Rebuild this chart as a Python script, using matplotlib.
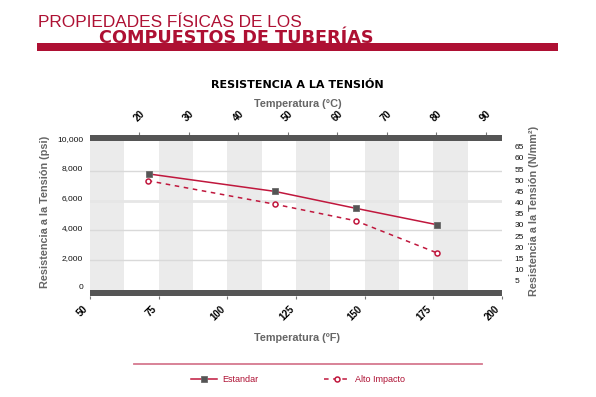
import matplotlib
matplotlib.use('Agg')
import matplotlib.pyplot as plt
from matplotlib.patches import Rectangle
from matplotlib.lines import Line2D
from matplotlib.transforms import ScaledTranslation

plt.rcParams['font.family'] = ['Liberation Sans', 'DejaVu Sans']

# ---------------- data ----------------
temp_f_estandar = [71.5, 117.2, 146.7, 176.4]
psi_estandar = [7800, 6630, 5490, 4380]
temp_f_alto = [71.0, 117.4, 146.7, 176.4]
psi_alto = [7350, 5760, 4650, 2480]

x_ticks_f = [50, 75, 100, 125, 150, 175, 200]
x_ticks_c = [20, 30, 40, 50, 60, 70, 80, 90]
y_ticks_psi = [0, 2000, 4000, 6000, 8000, 10000]
y_labels_psi = ['0', '2,000', '4,000', '6,000', '8,000', '10,000']
y_ticks_nmm = [5, 10, 15, 20, 25, 30, 35, 40, 45, 50, 55, 60, 65]
band_starts_f = [50, 75, 100, 125, 150, 175]
band_width_f = 12.5

series_names = ['Estandar', 'Alto Impacto']

# ---------------- style ----------------
RED = '#ae1033'
LINE_RED = '#c0173d'
DARK = '#555555'
GREY_TXT = '#666666'
BAND = '#ebebeb'
GRID = '#d9d9d9'

W, H = 596, 397
fig = plt.figure(figsize=(W / 100, H / 100), dpi=100)


def fx(px):
    return px / W


def fy(py):
    return 1 - py / H


# header
fig.text(fx(38), fy(27.3), 'PROPIEDADES FÍSICAS DE LOS', color=RED,
         fontsize=12.4, ha='left', va='baseline', family=['Liberation Sans'])
fig.text(fx(99), fy(42.7), 'COMPUESTOS DE TUBERÍAS', color=RED,
         fontsize=12.7, fontweight='bold', ha='left', va='baseline',
         family=['DejaVu Sans'])
fig.add_artist(Rectangle((fx(37.3), fy(51)), fx(558.3) - fx(37.3), fy(43.3) - fy(51),
                         transform=fig.transFigure, facecolor=RED, edgecolor='none'))

# titles
fig.text(fx(297.5), fy(88.3), 'RESISTENCIA A LA TENSIÓN', color='black',
         fontsize=8.0, fontweight='bold', ha='center', va='baseline',
         family=['DejaVu Sans'])
fig.text(fx(298), fy(106.7), 'Temperatura (°C)', color=GREY_TXT,
         fontsize=7.8, fontweight='bold', ha='center', va='baseline')
fig.text(fx(297.5), fy(340.7), 'Temperatura (ºF)', color=GREY_TXT,
         fontsize=7.8, fontweight='bold', ha='center', va='baseline')
fig.text(fx(45), fy(211.7), 'Resistencia a la Tensión (psi)', color=GREY_TXT,
         fontsize=7.8, fontweight='bold', ha='center', va='center', rotation=90)
fig.text(fx(534), fy(211), 'Resistencia a la Tensión (N/mm²)', color=GREY_TXT,
         fontsize=7.8, fontweight='bold', ha='center', va='center', rotation=90)

# ---------------- main axes ----------------
ax = fig.add_axes([fx(90), fy(296), fx(502) - fx(90), fy(135) - fy(296)])
ax.set_xlim(50, 200)
ax.set_ylim(-417.5, 10424)
for s in ax.spines.values():
    s.set_visible(False)
ax.set_axisbelow(True)

for b in band_starts_f:
    ax.axvspan(b, b + band_width_f, color=BAND, lw=0, zorder=0)

for v in y_ticks_psi[1:-1]:
    if v == 6000:
        ax.axhline(v, color='#e6e6e6', lw=2.0, zorder=0.5)
    else:
        ax.axhline(v, color=GRID, lw=1.0, zorder=0.5)

# dark bars
ax.axhspan(y_ticks_psi[-1], ax.get_ylim()[1], color=DARK, lw=0, zorder=3)
ax.axhspan(ax.get_ylim()[0], y_ticks_psi[0], color=DARK, lw=0, zorder=3)

l1, = ax.plot(temp_f_estandar, psi_estandar, color=LINE_RED, lw=1.1,
              marker='s', ms=5, mfc=DARK, mec='#6a6a6a', mew=0.6, zorder=4)
l2, = ax.plot(temp_f_alto, psi_alto, color=LINE_RED, lw=1.1, ls=(0, (3, 3)),
              marker='o', ms=3.6, mfc='white', mec=LINE_RED, mew=1.1, zorder=4)

ax.set_xticks(x_ticks_f, labels=[str(v) for v in x_ticks_f], rotation=45,
              ha='right', fontweight='bold', fontsize=7)
ax.tick_params(axis='x', direction='out', length=2.4, width=0.8, color='#777777',
               pad=3, labelcolor='black')
ax.set_yticks(y_ticks_psi, labels=y_labels_psi, fontsize=6)
ax.tick_params(axis='y', length=0, pad=5, labelcolor='#111111')
for lab in ax.get_yticklabels():
    lab.set_transform(lab.get_transform() + ScaledTranslation(0, 0.03, fig.dpi_scale_trans))


def f2c(f):
    return (f - 32) * 5 / 9


def c2f(c):
    return c * 9 / 5 + 32


sec = ax.secondary_xaxis('top', functions=(f2c, c2f))
sec.set_xticks(x_ticks_c, labels=[str(v) for v in x_ticks_c], rotation=45,
               ha='center', fontweight='bold', fontsize=7)
sec.tick_params(direction='out', length=2.4, width=0.8, color='#777777', pad=6)
for s in sec.spines.values():
    s.set_visible(False)

ax2 = ax.twinx()
ax2.set_ylim(-1.85, 70.24)
ax2.set_yticks(y_ticks_nmm, labels=[str(v) for v in y_ticks_nmm], fontsize=6)
ax2.tick_params(axis='y', length=0, pad=9, labelcolor='#111111')
for s in ax2.spines.values():
    s.set_visible(False)

# separator + legend
fig.add_artist(Line2D([fx(134), fx(482)], [fy(364), fy(364)], transform=fig.transFigure,
                      color='#d6788f', lw=1.3))
fig.legend(handles=[l1, l2], labels=series_names, loc='center',
           bbox_to_anchor=(fx(298), fy(380)), ncol=2, frameon=False,
           fontsize=6.5, labelcolor=RED, handlelength=2.8, handletextpad=0.6,
           columnspacing=7.3)

fig.savefig('out.png', dpi=100)
